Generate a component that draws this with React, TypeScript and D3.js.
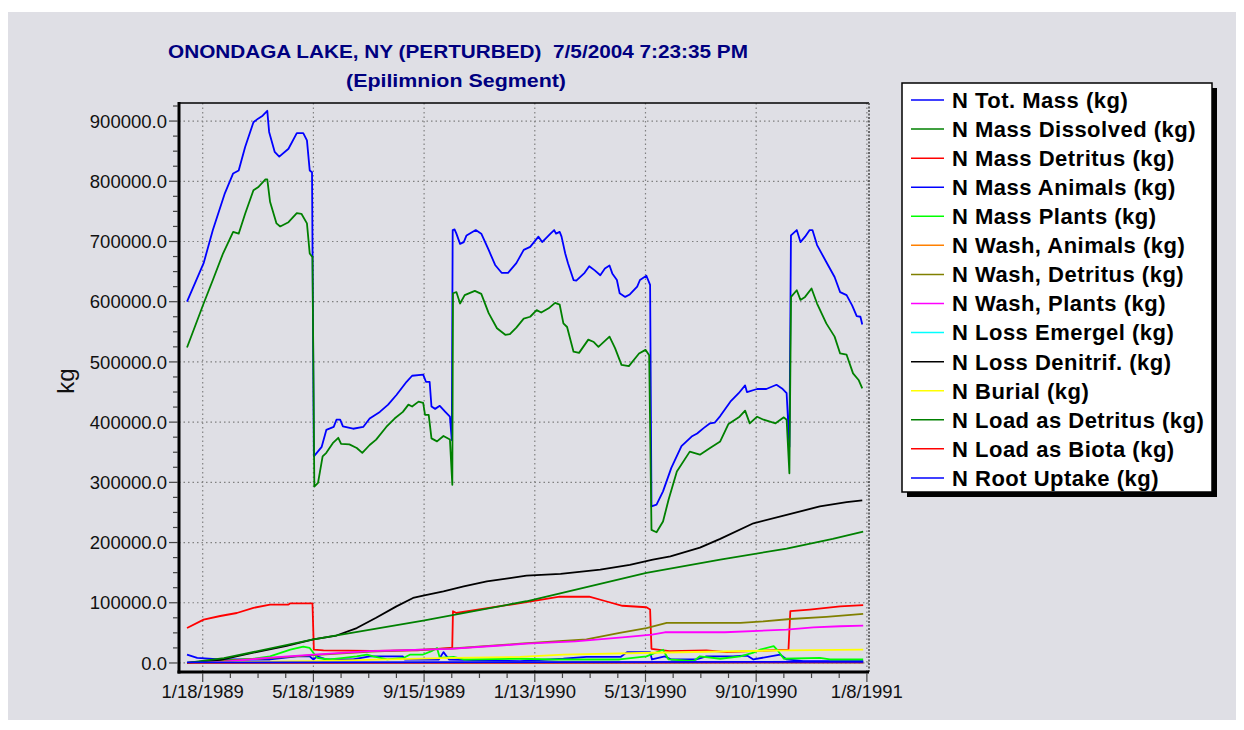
import React from "react";
import * as d3 from "d3";

// ---- data (day offset from 1/1/1989, value in kg) ----
const seriesNames = [
  "N Tot. Mass (kg)",
  "N Mass Dissolved (kg)",
  "N Mass Detritus (kg)",
  "N Mass Animals (kg)",
  "N Mass Plants (kg)",
  "N Wash, Animals (kg)",
  "N Wash, Detritus (kg)",
  "N Wash, Plants (kg)",
  "N Loss Emergel (kg)",
  "N Loss Denitrif. (kg)",
  "N Burial (kg)",
  "N Load as Detritus (kg)",
  "N Load as Biota (kg)",
  "N Root Uptake (kg)",
];
const seriesColors = [
  "#0000ff", "#008000", "#ff0000", "#0000ff", "#00ff00", "#ff8000", "#808000",
  "#ff00ff", "#00ffff", "#000000", "#ffff00", "#008000", "#ff0000", "#0000ff",
];

const nTotMass = [
  [0, 600000], [18, 664000], [28, 719000], [41, 780000], [50, 813000], [56, 818000], [63, 857000],
  [72, 898000], [77, 904000], [82, 909000], [87, 917000], [89, 882000], [95, 849000], [100, 841000],
  [110, 854000], [119, 880000], [126, 880000], [130, 868000], [133, 818000], [135.5, 815000],
  [137.5, 343000], [146, 359000], [151, 387000], [159, 392000], [162, 404000], [166, 404000],
  [169, 393000], [180, 389000], [191, 392000], [198, 406000], [209, 417000], [218, 429000],
  [227, 445000], [238, 467000], [244, 477000], [256, 479000], [259, 467000], [263, 467000],
  [265, 426000], [269, 422000], [274, 427000], [280, 417000], [285, 409000], [287, 370000],
  [288, 719000], [290, 720000], [292, 713000], [296, 696000], [300, 699000], [303, 710000],
  [313, 719000], [319, 713000], [327, 686000], [334, 661000], [341, 648000], [348, 648000],
  [357, 664000], [365, 686000], [372, 691000], [381, 708000], [385, 699000], [394, 713000],
  [398, 719000], [400, 713000], [404, 716000], [406, 708000], [410, 680000], [413, 664000],
  [419, 636000], [422, 635000], [431, 648000], [436, 659000], [442, 652000], [448, 644000],
  [453, 655000], [458, 660000], [461, 647000], [466, 636000], [469, 614000], [475, 608000],
  [480, 612000], [488, 625000], [491, 636000], [498, 643000], [502, 628000], [503.5, 260000],
  [509, 263000], [516, 285000], [525, 324000], [536, 360000], [547, 376000], [553, 381000],
  [560, 390000], [567, 398000], [572, 399000], [578, 410000], [589, 434000], [598, 448000],
  [605, 461000], [607, 450000], [618, 455000], [628, 455000], [639, 462000], [645, 456000],
  [650, 448000], [653, 359000], [654.7, 710000], [661, 719000], [665, 699000], [670, 708000],
  [675, 719000], [678, 719000], [683, 694000], [693, 666000], [702, 641000], [708, 616000],
  [715, 611000], [721, 594000], [726, 576000], [730, 575000], [732, 562000],
];

const nMassDissolved = [
  [0, 524000], [18, 597000], [28, 636000], [39, 680000], [50, 716000], [56, 713000], [63, 746000],
  [72, 785000], [77, 790000], [85, 803000], [87, 803000], [90, 766000], [97, 730000], [101, 725000],
  [110, 732000], [119, 747000], [124, 746000], [130, 730000], [133, 680000], [136, 674000],
  [138, 293000], [142, 299000], [147, 343000], [151, 349000], [158, 365000], [164, 374000],
  [167, 364000], [176, 363000], [184, 357000], [190, 349000], [198, 362000], [205, 371000],
  [216, 392000], [225, 406000], [234, 417000], [240, 429000], [244, 426000], [251, 434000],
  [256, 432000], [258, 412000], [262, 412000], [265, 373000], [271, 368000], [278, 377000],
  [285, 371000], [287.6, 296000], [288.3, 614000], [292, 616000], [296, 597000], [301, 611000],
  [312, 618000], [319, 613000], [327, 581000], [336, 556000], [345, 545000], [350, 546000],
  [357, 557000], [365, 572000], [372, 575000], [379, 586000], [384, 582000], [392, 589000],
  [399, 598000], [404, 595000], [408, 564000], [412, 558000], [419, 517000], [425, 515000],
  [435, 537000], [441, 533000], [446, 525000], [458, 542000], [464, 523000], [471, 495000],
  [479, 493000], [490, 514000], [497, 520000], [501, 511000], [503.5, 221000], [509, 217000],
  [516, 235000], [522, 271000], [531, 318000], [545, 351000], [556, 346000], [567, 357000],
  [578, 368000], [587, 397000], [599, 409000], [605, 419000], [610, 398000], [618, 409000],
  [625, 404000], [638, 398000], [647, 408000], [650, 404000], [653, 315000], [654.8, 608000],
  [661, 619000], [665, 603000], [670, 608000], [677, 622000], [683, 597000], [693, 564000],
  [702, 542000], [708, 514000], [715, 512000], [722, 481000], [728, 470000], [732, 456000],
];

const nMassDetritus = [
  [0, 58000], [18, 72000], [36, 78000], [54, 83000], [72, 91500], [90, 97000], [110, 97000],
  [112, 99000], [136, 99000], [137.5, 22000], [148, 21000], [200, 20000], [250, 21000],
  [285, 25000], [287.5, 25000], [288.3, 86000], [292, 83000], [368, 101000], [404, 110000],
  [436, 110000], [454, 102500], [472, 95000], [498, 92500], [502, 88700], [503.5, 23500],
  [523, 19600], [563, 21000], [585, 18000], [652, 22000], [654, 86000], [675, 88700],
  [708, 94000], [733, 96000],
];

const nMassAnimals = [
  [0, 14000], [11, 8600], [36, 5800], [90, 5800], [119, 11000], [133, 11000], [137, 5800],
  [141, 11000], [151, 5800], [180, 5800], [198, 11000], [234, 11000], [236, 5800], [273, 5800],
  [278, 18000], [284, 5800], [361, 3000], [408, 7000], [433, 10000], [470, 10000], [477, 18000],
  [502, 18000], [504, 5800], [518, 11000], [525, 5800], [552, 5800], [563, 11000], [592, 11000],
  [607, 12400], [614, 5800], [643, 14000], [650, 5800], [668, 3000], [733, 3000],
];

const nMassPlants = [
  [0, 0], [36, 3000], [72, 7000], [90, 11000], [112, 22000], [126, 27000], [133, 25000],
  [141, 8600], [148, 7000], [155, 5800], [170, 8600], [184, 11000], [195, 14000], [202, 11000],
  [217, 5800], [235, 8600], [242, 14000], [256, 14000], [265, 19600], [271, 25000], [274, 8600],
  [289, 10000], [300, 5800], [361, 7000], [397, 5800], [469, 5800], [498, 11000], [516, 22000],
  [522, 5800], [549, 3000], [556, 11000], [578, 7000], [600, 11000], [614, 17000], [621, 22000],
  [636, 28000], [641, 19600], [647, 7000], [686, 8600], [697, 5800], [733, 5800],
];

const nWashAnimals = [[0, 0], [365, 800], [733, 1500]];

const nWashDetritus = [
  [0, 0], [90, 8000], [137, 13000], [200, 19000], [288, 24000], [361, 32000], [433, 39000],
  [469, 50000], [498, 58000], [520, 66700], [600, 66700], [625, 69000], [654, 73000],
  [693, 76600], [733, 81600],
];

const nWashPlants = [
  [0, 0], [40, 2000], [90, 9000], [137, 14000], [198, 19600], [285, 23500], [340, 29000],
  [368, 32000], [421, 36000], [475, 43000], [504, 47000], [518, 51000], [583, 51000],
  [650, 55500], [679, 59000], [708, 61000], [733, 62000],
];

const nLossEmergel = [[0, 0], [365, 400], [733, 800]];

const nLossDenitrif = [
  [0, 0], [36, 5000], [72, 17000], [108, 28500], [137, 39000], [162, 45600], [184, 58000],
  [205, 75000], [227, 94000], [245, 108000], [256, 112000], [278, 119000], [300, 127000],
  [325, 135600], [350, 141000], [368, 145000], [405, 148000], [448, 155000], [480, 163000],
  [505, 171600], [524, 177000], [556, 191500], [578, 206000], [614, 232000], [650, 246000],
  [686, 260000], [715, 267000], [732, 270000],
];

const nBurial = [
  [0, 0], [137, 3000], [288, 8600], [361, 10000], [408, 14000], [505, 17000], [650, 21000],
  [733, 22000],
];

const nLoadDetritus = [
  [0, 0], [40, 8000], [137, 39000], [256, 70500], [368, 102500], [498, 149600], [578, 171600],
  [650, 190000], [700, 206000], [733, 218000],
];

const nLoadBiota = [[0, 0], [365, 300], [733, 500]];

const nRootUptake = [[0, 1000], [365, 1500], [733, 2000]];

const seriesData = [
  nTotMass, nMassDissolved, nMassDetritus, nMassAnimals, nMassPlants, nWashAnimals,
  nWashDetritus, nWashPlants, nLossEmergel, nLossDenitrif, nBurial, nLoadDetritus,
  nLoadBiota, nRootUptake,
];

const xTickLabels = ["1/18/1989", "5/18/1989", "9/15/1989", "1/13/1990", "5/13/1990", "9/10/1990", "1/8/1991"];
const yTickValues = [0, 100000, 200000, 300000, 400000, 500000, 600000, 700000, 800000, 900000];

const titleLine1 = "ONONDAGA LAKE, NY (PERTURBED)  7/5/2004 7:23:35 PM";
const titleLine2 = "(Epilimnion Segment)";
const yAxisLabel = "kg";

// ---- helpers ----
const BASE = Date.UTC(1989, 0, 1);
const dayToDate = (d: number) => new Date(BASE + d * 86400000);
const parseLabel = (s: string) => {
  const [m, d, y] = s.split("/").map(Number);
  return new Date(Date.UTC(y, m - 1, d));
};

const PL = 179, PR = 869, PT = 103, PB = 672;
const FONT = "Liberation Sans, Arial, Helvetica, sans-serif";

export default function App() {
  const x = d3.scaleUtc().domain([dayToDate(-8.7), dayToDate(739.3)]).range([PL, PR]);
  const y = d3.scaleLinear().domain([-15000, 930000]).range([PB, PT]);

  const line = d3
    .line<number[]>()
    .x((d) => x(dayToDate(d[0])))
    .y((d) => y(d[1]));

  const majorX = xTickLabels.map(parseLabel);
  const minorX: Date[] = [];
  for (let i = 0; i < majorX.length - 1; i++) {
    for (let k = 1; k < 4; k++) minorX.push(d3.utcDay.offset(majorX[i], 30 * k));
  }
  const minorY: number[] = [];
  for (let v = 25000; v <= 925000; v += 25000) if (v % 100000 !== 0) minorY.push(v);

  const legX = 902, legY = 83, legW = 310, legH = 409;
  const legRow = 29.07;

  return (
    <svg
      width={1244}
      height={730}
      style={{ position: "absolute", left: 0, top: 0, display: "block" }}
      fontFamily={FONT}
    >
      <rect x={0} y={0} width={1244} height={730} fill="#ffffff" />
      <rect x={8} y={12} width={1228} height={708} fill="#dfdfe5" />

      {/* title */}
      <text x={458} y={58} textAnchor="middle" fontSize={18} fontWeight="bold" fill="#000080"
        textLength={580} lengthAdjust="spacingAndGlyphs" xmlSpace="preserve">{titleLine1}</text>
      <text x={456} y={87} textAnchor="middle" fontSize={18} fontWeight="bold" fill="#000080"
        textLength={220} lengthAdjust="spacingAndGlyphs">{titleLine2}</text>

      {/* grid */}
      <g stroke="#808080" strokeWidth={1.2} strokeDasharray="1.5,3">
        {yTickValues.map((v) => (
          <line key={"gy" + v} x1={PL} x2={PR} y1={y(v)} y2={y(v)} />
        ))}
        {majorX.map((t, i) => (
          <line key={"gx" + i} x1={x(t)} x2={x(t)} y1={PT} y2={PB} />
        ))}
      </g>

      {/* series */}
      <g fill="none" strokeWidth={1.8} strokeLinejoin="round">
        {seriesData.map((s, i) => (
          <path key={"s" + i} d={line(s as number[][]) || ""} stroke={seriesColors[i]} />
        ))}
      </g>

      {/* frame */}
      <line x1={PL} x2={PR} y1={PT} y2={PT} stroke="#000" strokeWidth={1.5} />
      <line x1={PR} x2={PR} y1={PT} y2={PB} stroke="#444" strokeWidth={1.5} strokeDasharray="2,1.5" />
      <line x1={PL} x2={PL} y1={PT - 1} y2={PB + 1.5} stroke="#000" strokeWidth={3} />
      <line x1={PL - 1.5} x2={PR} y1={PB} y2={PB} stroke="#000" strokeWidth={3} />

      {/* ticks */}
      <g stroke="#444" strokeWidth={1.2}>
        {yTickValues.map((v) => (
          <line key={"ty" + v} x1={PL - 10} x2={PL - 1} y1={y(v)} y2={y(v)} />
        ))}
        {minorY.map((v) => (
          <line key={"my" + v} x1={PL - 6} x2={PL - 1} y1={y(v)} y2={y(v)} />
        ))}
        {majorX.map((t, i) => (
          <line key={"tx" + i} x1={x(t)} x2={x(t)} y1={PB + 1} y2={PB + 10} />
        ))}
        {minorX.map((t, i) => (
          <line key={"mx" + i} x1={x(t)} x2={x(t)} y1={PB + 1} y2={PB + 6} />
        ))}
      </g>
      <g fontSize={18.5} fill="#111">
        {yTickValues.map((v) => (
          <text key={"ly" + v} x={PL - 12} y={y(v)} dy="0.36em" textAnchor="end">
            {v.toFixed(1)}
          </text>
        ))}
        {majorX.map((t, i) => (
          <text key={"lx" + i} x={x(t)} y={698} textAnchor="middle">
            {xTickLabels[i]}
          </text>
        ))}
      </g>

      <text transform={`translate(74,381) rotate(-90)`} textAnchor="middle" fontSize={24} fill="#111">
        {yAxisLabel}
      </text>

      {/* legend */}
      <rect x={legX + 5} y={legY + 5} width={legW} height={legH} fill="#000" />
      <rect x={legX} y={legY} width={legW} height={legH} fill="#fff" stroke="#000" strokeWidth={1.5} />
      {seriesNames.map((n, i) => {
        const cy = legY + 17 + i * legRow;
        return (
          <g key={"lg" + i}>
            <line x1={legX + 9} x2={legX + 42} y1={cy} y2={cy} stroke={seriesColors[i]} strokeWidth={1.5} />
            <text x={legX + 50} y={cy} dy="0.36em" fontSize={22} letterSpacing={0.5} fontWeight="bold" fill="#000">
              {n}
            </text>
          </g>
        );
      })}
    </svg>
  );
}
